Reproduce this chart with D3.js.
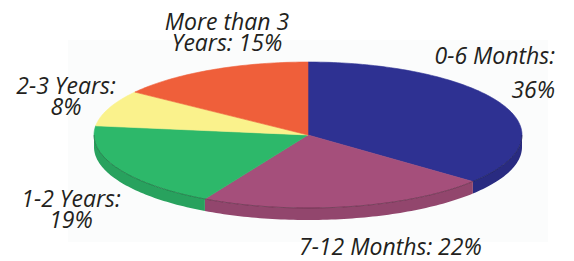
<!DOCTYPE html>
<html lang="en">
<head>
<meta charset="utf-8">
<title>3D Pie</title>
<script src="https://d3js.org/d3.v7.min.js"></script>
<style>
  body { margin: 0; background: #fff; }
  .label {
    font-family: "Open Sans", sans-serif;
    font-style: italic;
    font-size: 23px;
    fill: #231f20;
  }
</style>
</head>
<body>
<svg width="574" height="261"></svg>
<script>
const categories = ["0-6 Months", "7-12 Months", "1-2 Years", "2-3 Years", "More than 3 Years"];
const percents = [36, 22, 19, 8, 15];
const sliceColors = ["#2e3192", "#a54f7b", "#2db86a", "#faf28c", "#ef5f3a"];

const svg = d3.select("svg");
const cx = 308, cy = 135, rx = 214, ry = 73, depth = 12;

// ellipse projection of a unit circle
const xs = d3.scaleLinear().domain([-1, 1]).range([cx - rx, cx + rx]);
const ys = d3.scaleLinear().domain([-1, 1]).range([cy - ry, cy + ry]);
const color = d3.scaleOrdinal().domain(categories).range(sliceColors);

const pie = d3.pie().sort(null).value(d => d.v);
const arcs = pie(categories.map((c, i) => ({ c: c, v: percents[i] })));

const line = d3.line();
const pt = (a, off) => [xs(Math.sin(a)), ys(-Math.cos(a)) + (off || 0)];
const samples = (a0, a1, off) => {
  const n = Math.max(2, Math.ceil((a1 - a0) / 0.02));
  return d3.range(n + 1).map(i => pt(a0 + (a1 - a0) * i / n, off));
};

// very faint backdrop
svg.append("rect")
   .attr("x", 68).attr("y", 40)
   .attr("width", 480).attr("height", 202)
   .attr("fill", "#fbfcfc");

// front walls
svg.selectAll("path.side")
   .data(arcs.filter(d => d.endAngle > Math.PI / 2 && d.startAngle < 3 * Math.PI / 2))
   .enter()
   .append("path")
   .attr("class", "side")
   .attr("d", d => {
     const a0 = Math.max(d.startAngle, Math.PI / 2);
     const a1 = Math.min(d.endAngle, 3 * Math.PI / 2);
     return line(samples(a0, a1, 0).concat(samples(a0, a1, depth).reverse())) + "Z";
   })
   .attr("fill", d => d3.color(color(d.data.c)).darker(0.35));

// top faces
svg.selectAll("path.top")
   .data(arcs)
   .enter()
   .append("path")
   .attr("class", "top")
   .attr("d", d => line([[cx, cy]].concat(samples(d.startAngle, d.endAngle, 0))) + "Z")
   .attr("fill", d => color(d.data.c))
   .attr("stroke", d => color(d.data.c))
   .attr("stroke-width", 0.6);

// rim edge
svg.append("path")
   .attr("d", line(samples(Math.PI / 2, 3 * Math.PI / 2, 0)))
   .attr("fill", "none")
   .attr("stroke", "rgba(0,0,0,0.3)")
   .attr("stroke-width", 1);

// labels
const labelLayout = [
  { x: 555, y: 64, anchor: "end", firstWords: 2, lh: 34 },
  { x: 299, y: 255, anchor: "start", firstWords: 3, lh: 0 },
  { x: 71, y: 207, anchor: "middle", firstWords: 2, lh: 21 },
  { x: 66, y: 94, anchor: "middle", firstWords: 2, lh: 21 },
  { x: 227, y: 30, anchor: "middle", firstWords: 3, lh: 21 }
];

categories.forEach((c, i) => {
  const L = labelLayout[i];
  const words = (c + ": " + percents[i] + "%").split(" ");
  const lines = [words.slice(0, L.firstWords).join(" "), words.slice(L.firstWords).join(" ")]
                .filter(s => s.length);
  const t = svg.append("text")
               .attr("class", "label")
               .attr("text-anchor", L.anchor);
  lines.forEach((s, j) => {
    t.append("tspan")
     .attr("x", L.x)
     .attr("y", L.y + j * L.lh)
     .text(s);
  });
});
</script>
</body>
</html>
